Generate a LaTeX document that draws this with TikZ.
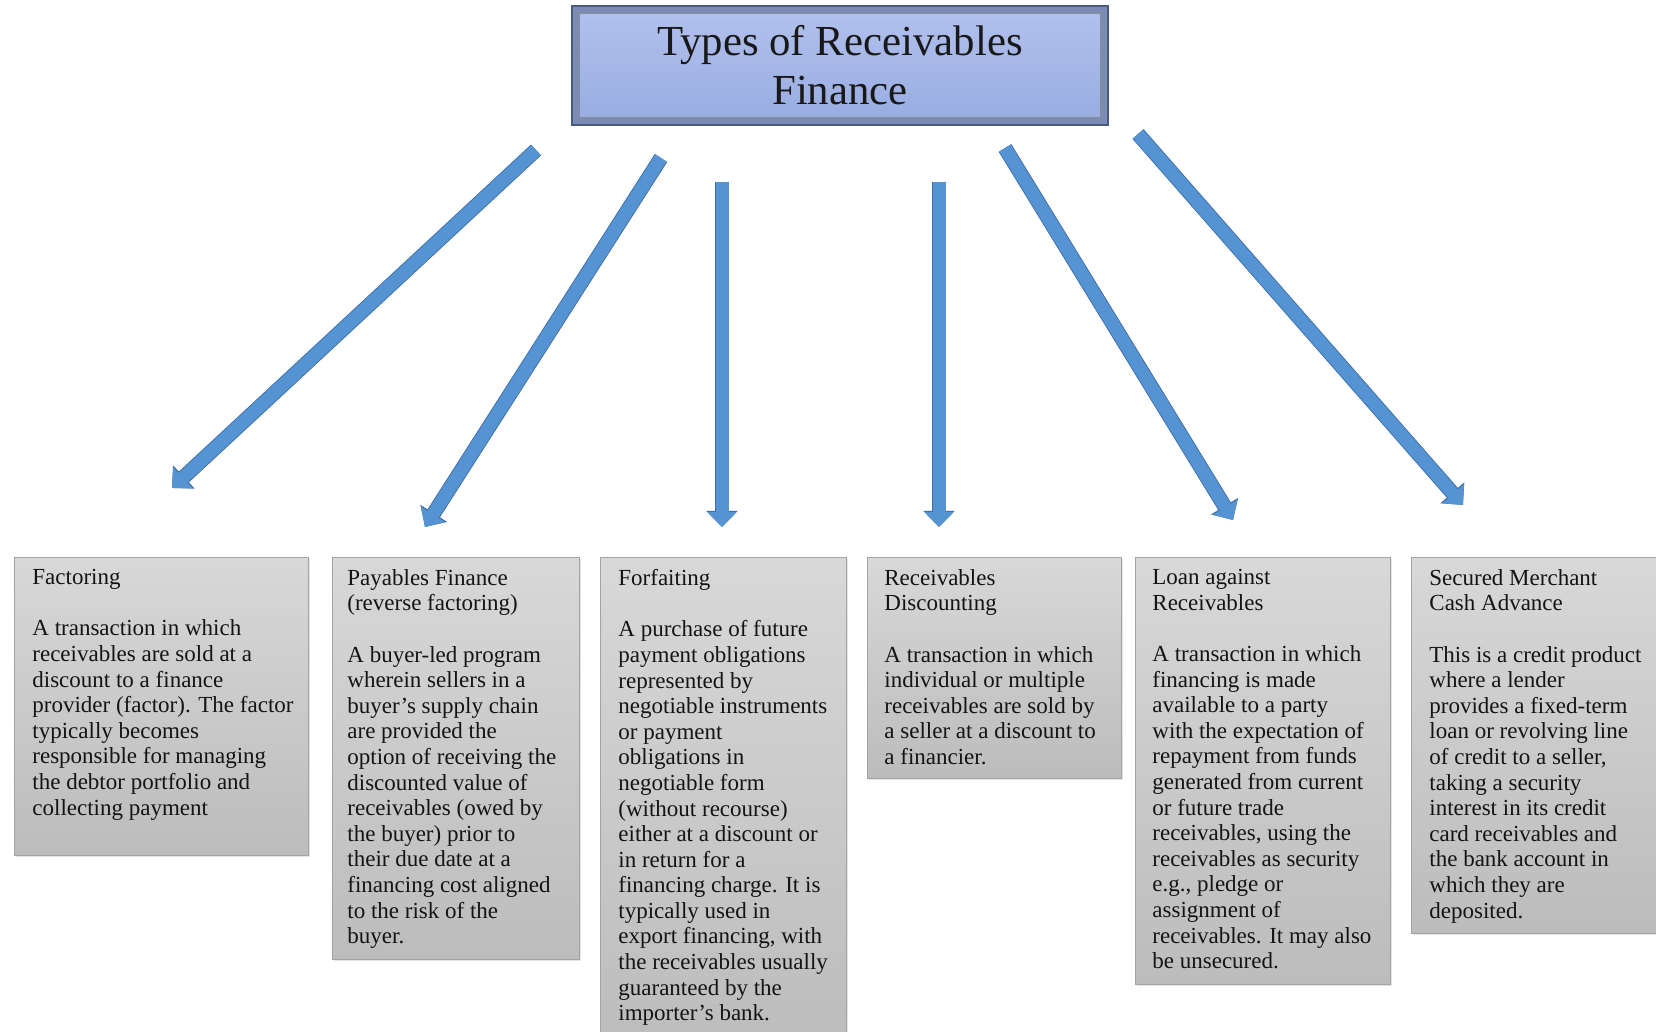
\documentclass[tikz,border=0pt]{standalone}
\usepackage{fontspec}
\setmainfont{Liberation Serif}
\usetikzlibrary{arrows.meta, positioning, shadows}

\definecolor{titletop}{HTML}{B2C1EE}
\definecolor{titlebot}{HTML}{98ACE1}
\definecolor{titleframe}{HTML}{7A8CB6}
\definecolor{titleedge}{HTML}{4B5B7E}
\definecolor{cardtop}{HTML}{D8D8D8}
\definecolor{cardbot}{HTML}{BCBCBC}
\definecolor{cardedge}{HTML}{A3A3A3}
\definecolor{arrowfill}{HTML}{5693D3}
\definecolor{arrowedge}{HTML}{3F6FA6}

\begin{document}
\begin{tikzpicture}[x=0.5pt, y=-0.5pt,
    title/.style={rectangle, draw=titleedge, line width=1pt, fill=titleframe, minimum width=268pt, minimum height=59.5pt, align=center, text=black!90, font=\fontsize{21.4}{24.5}\selectfont,
      path picture={\shade[top color=titletop, bottom color=titlebot, draw=titleedge!70] ([shift={(3.5pt,-3.5pt)}]path picture bounding box.north west) rectangle ([shift={(-3.5pt,3.5pt)}]path picture bounding box.south east);}},
    card/.style={rectangle, draw=cardedge, top color=cardtop, bottom color=cardbot, anchor=north west, inner sep=0pt, drop shadow={shadow xshift=0.8pt, shadow yshift=-0.8pt, opacity=0.2}},
    cardtext/.style={inner sep=0pt, align=left, text=black!92, font=\fontsize{11.5}{12.8}\selectfont},
    line/.style={draw=arrowfill, line width=6.5pt, -{Triangle[width=14pt,length=7.5pt]},
      preaction={draw=arrowedge, line width=7.4pt, -{Triangle[width=15.4pt,length=8.1pt]}}}]

    \path[use as bounding box, fill=white] (0,0) rectangle (1656,1032);

    \node [title] (title) at (840,65.5) {Types of Receivables\\Finance};

    \node [card, minimum width=147pt, minimum height=149pt] (fact) at (14,557) {};
    \node [card, minimum width=123.5pt, minimum height=201pt] (pay) at (332,557) {};
    \node [card, minimum width=123pt, minimum height=245pt] (forf) at (600,557) {};
    \node [card, minimum width=127pt, minimum height=110.5pt] (disc) at (867,557) {};
    \node [card, minimum width=127.5pt, minimum height=213.5pt] (loan) at (1135,557) {};
    \node [card, minimum width=126pt, minimum height=188pt] (merch) at (1411,557) {};

    \node [cardtext, below right=6pt and 9pt of fact.north west] (facttext) {Factoring\\[12.8pt]
        A transaction in which\\receivables are sold at a\\discount to a finance\\provider (factor). The factor\\typically becomes\\responsible for managing\\the debtor portfolio and\\collecting payment};
    \node [cardtext, below right=6pt and 7.5pt of pay.north west] (paytext) {Payables Finance\\(reverse factoring)\\[12.8pt]
        A buyer-led program\\wherein sellers in a\\buyer’s supply chain\\are provided the\\option of receiving the\\discounted value of\\receivables (owed by\\the buyer) prior to\\their due date at a\\financing cost aligned\\to the risk of the\\buyer.};
    \node [cardtext, below right=6pt and 9pt of forf.north west] (forftext) {Forfaiting\\[12.8pt]
        A purchase of future\\payment obligations\\represented by\\negotiable instruments\\or payment\\obligations in\\negotiable form\\(without recourse)\\either at a discount or\\in return for a\\financing charge. It is\\typically used in\\export financing, with\\the receivables usually\\guaranteed by the\\importer’s bank.};
    \node [cardtext, below right=6pt and 8.5pt of disc.north west] (disctext) {Receivables\\Discounting\\[12.8pt]
        A transaction in which\\individual or multiple\\receivables are sold by\\a seller at a discount to\\a financier.};
    \node [cardtext, below right=6pt and 8.5pt of loan.north west] (loantext) {Loan against\\Receivables\\[12.8pt]
        A transaction in which\\financing is made\\available to a party\\with the expectation of\\repayment from funds\\generated from current\\or future trade\\receivables, using the\\receivables as security\\e.g., pledge or\\assignment of\\receivables. It may also\\be unsecured.};
    \node [cardtext, below right=6pt and 9pt of merch.north west] (merchtext) {Secured Merchant\\Cash Advance\\[12.8pt]
        This is a credit product\\where a lender\\provides a fixed-term\\loan or revolving line\\of credit to a seller,\\taking a security\\interest in its credit\\card receivables and\\the bank account in\\which they are\\deposited.};

    % arrow ends
    \coordinate (s1) at (536,150);  \coordinate (e1) at (172,488);
    \coordinate (s2) at (661,158);  \coordinate (e2) at (425,527);
    \coordinate (s3) at (722,182);  \coordinate (e3) at (722,527);
    \coordinate (s4) at (939,182);  \coordinate (e4) at (939,527);
    \coordinate (s5) at (1005,148); \coordinate (e5) at (1233,520);
    \coordinate (s6) at (1138,134); \coordinate (e6) at (1463,505);

    \foreach \i in {1,...,6}
        \path [line] (s\i) -- (e\i);
\end{tikzpicture}
\end{document}
